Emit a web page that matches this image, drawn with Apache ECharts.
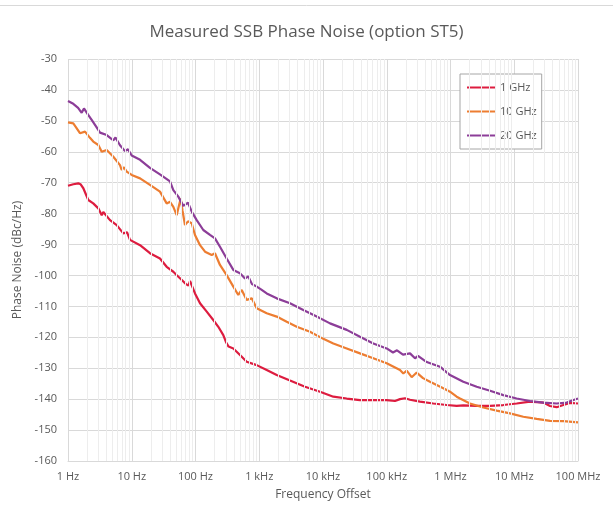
<!DOCTYPE html>
<html>
<head>
<meta charset="utf-8">
<script src="https://cdn.jsdelivr.net/npm/echarts@6/dist/echarts.min.js"></script>
<style>html,body{margin:0;padding:0;background:#fff;}#c{width:613px;height:522px;}</style>
</head>
<body>
<div id="c"></div>
<script>
// ---- data (frequency offset in Hz, phase noise in dBc/Hz) ----
const seriesNames = ['1 GHz', '10 GHz', '20 GHz'];
const xTickLabels = ['1 Hz', '10 Hz', '100 Hz', '1 kHz', '10 kHz', '100 kHz', '1 MHz', '10 MHz', '100 MHz'];

const data1GHz = [
  [1, -71], [1.21, -70.5], [1.45, -70.2], [1.57, -70.5], [1.74, -71.8], [2.08, -75.6], [2.49, -76.7],
  [2.99, -78.3], [3.38, -80.5], [3.58, -79.5], [4.56, -82.1], [5.81, -83.7], [7.37, -86.4], [8.42, -86],
  [9.39, -88.5], [13.5, -90.2], [19.3, -92.8], [27.7, -94.5], [35.3, -97.2], [44.9, -98.8], [51.3, -100],
  [57.1, -100.9], [71, -102.8], [77.6, -103.3], [82, -101.8], [98.2, -105.8], [117.7, -109], [150, -111.7],
  [190, -114.4], [228, -116.6], [273, -119.3], [300, -121.5], [330, -123], [392, -123.6], [499, -125.7], [635, -127.9],
  [912, -129], [1309, -130.6], [1879, -132.2], [3036, -134], [5224, -136], [8980, -137.6], [14520, -139.2],
  [23550, -139.8], [38020, -140.3], [61520, -140.3], [99770, -140.3], [134600, -140.6], [161400, -140],
  [193300, -139.7], [231700, -140.2], [332500, -140.8], [537000, -141.4], [871000, -141.9], [1.25e6, -142.2],
  [1.589e6, -142], [2.577e6, -142.2], [4.17e6, -142.2], [6.73e6, -141.9], [1.09e7, -141.4], [1.766e7, -140.8],
  [2.858e7, -141.1], [3.64e7, -142.2], [4.63e7, -142.6], [5.89e7, -141.9], [7.5e7, -141.2], [1e8, -141.4]
];

const data10GHz = [
  [1, -50.5], [1.21, -50.8], [1.33, -52], [1.54, -54], [1.85, -53.5], [2.21, -55.5], [2.49, -56.7],
  [2.99, -57.8], [3.38, -60], [4.05, -59.4], [5.14, -61.6], [6.54, -64.3], [6.95, -65.9], [7.56, -65],
  [8.33, -66.4], [9.98, -67.5], [13.5, -68.6], [19.3, -70.7], [27.7, -72.9], [35.3, -76.7], [39.8, -76.2],
  [44.9, -77.8], [50.7, -80.5], [54.1, -78], [58.6, -75.1], [62.5, -79], [68.4, -83.7], [76.3, -82.5],
  [87.1, -83.1], [98.2, -86.9], [117.7, -90.2], [141, -92.3], [179.5, -93.4], [202, -92.8], [242, -96.6],
  [308, -99.9], [392, -103.6], [469, -106.3], [531, -104.7], [635, -107.9], [762, -107.4], [912, -110.6],
  [1309, -112.2], [1879, -113.3], [2697, -115], [3872, -116.6], [6250, -118.2], [10110, -120.5],
  [14520, -122], [23550, -123.6], [38020, -125.2], [61520, -126.8], [99770, -128.4], [161400, -130.6],
  [182000, -131.7], [205600, -130.8], [246000, -132.9], [295000, -131.4], [370500, -133.2], [476800, -134.4],
  [771000, -136.5], [982000, -137.6], [1.25e6, -139.2], [1.41e6, -139.8], [2.02e6, -141.4], [3.27e6, -142.7],
  [5.31e6, -143.7], [8.57e6, -144.6], [1.387e7, -145.7], [2.25e7, -146.4], [3.64e7, -147], [5.89e7, -147.1],
  [1e8, -147.5]
];

const data20GHz = [
  [1, -43.6], [1.21, -44.5], [1.44, -45.8], [1.64, -47.4], [1.78, -46], [2.06, -48], [2.35, -49.7],
  [2.75, -51.8], [3.18, -53.8], [4.05, -54.6], [5.14, -56.3], [5.56, -55.4], [6.54, -57.9], [7.83, -59.8],
  [8.73, -59.2], [9.98, -61.2], [13.5, -62.6], [19.3, -65.2], [27.7, -67.3], [39.8, -69.6], [44.9, -72.4],
  [53.7, -74.5], [64.4, -77.5], [76.3, -76.5], [88.1, -79.5], [104.5, -82.1], [132.5, -85.3], [168.7, -86.9],
  [202, -88], [242, -90.7], [308, -94.5], [392, -98.2], [499, -99.3], [597, -101], [673, -100.3],
  [769, -102.8], [912, -103.6], [1065, -104.5], [1309, -105.8], [1879, -107.4], [3036, -109], [4909, -111.2],
  [7960, -113.3], [12880, -115.5], [23550, -117.6], [38020, -119.8], [61520, -122], [99770, -123.6],
  [125300, -124.9], [144800, -124.2], [179700, -125.6], [231700, -125.2], [277500, -126.8], [309000, -126],
  [423700, -128], [684000, -129.5], [982000, -132.2], [1.589e6, -134.4], [2.577e6, -136], [4.17e6, -137.3],
  [6.73e6, -138.7], [1.09e7, -139.8], [1.766e7, -140.6], [2.858e7, -141.1], [4.63e7, -141.4], [6.65e7, -141.1],
  [8.97e7, -140.1], [1e8, -139.8]
];

// minor vertical gridlines at 2..9 x each decade
const minorMultipliers = [2, 3, 4, 5, 6, 7, 8, 9];
const decades = [1, 10, 100, 1e3, 1e4, 1e5, 1e6, 1e7];

const minorLines = [];
decades.forEach(d => minorMultipliers.forEach(m => minorLines.push({ xAxis: d * m })));

const colors = ['#DD1C3F', '#ED7D31', '#8C3D98'];
const FONT = 'Open Sans';
const chart = echarts.init(document.getElementById('c'), null, { renderer: 'canvas' });

chart.setOption({
  animation: false,
  backgroundColor: '#ffffff',
  textStyle: { fontFamily: FONT },
  title: {
    text: 'Measured SSB Phase Noise (option ST5)',
    left: 'center',
    top: 19,
    textStyle: { fontFamily: FONT, fontSize: 17, fontWeight: 'normal', color: '#595959' }
  },
  legend: {
    data: seriesNames,
    icon: 'path://M0,4L28,4L28,6L0,6Z',
    orient: 'vertical',
    left: 460,
    top: 74,
    padding: [8, 5, 8, 7],
    itemGap: 13,
    itemWidth: 28,
    itemHeight: 15,
    itemStyle: { borderWidth: 0 },
    borderColor: '#A6A6A6',
    borderWidth: 1,
    backgroundColor: '#ffffff',
    textStyle: { fontFamily: FONT, fontSize: 11, color: '#595959' }
  },
  graphic: [
    { type: 'line', shape: { x1: 0, y1: 5.5, x2: 613, y2: 5.5 }, style: { stroke: '#D9D9D9', lineWidth: 1 } }
  ],
  grid: { left: 68, right: 35, top: 59, bottom: 61, containLabel: false },
  xAxis: {
    type: 'log',
    logBase: 10,
    min: 1,
    max: 1e8,
    name: 'Frequency Offset',
    nameLocation: 'middle',
    nameGap: 28,
    nameTextStyle: { fontFamily: FONT, fontSize: 12, color: '#595959' },
    axisLine: { show: true, lineStyle: { color: '#D9D9D9' } },
    axisTick: { show: false },
    axisLabel: {
      fontFamily: FONT, fontSize: 11, color: '#595959', margin: 10,
      formatter: v => {
        const i = Math.round(Math.log10(v));
        return xTickLabels[i] !== undefined ? xTickLabels[i] : '';
      }
    },
    splitLine: { show: true, lineStyle: { color: '#D9D9D9', width: 1 } }
  },
  yAxis: {
    type: 'value',
    min: -160,
    max: -30,
    interval: 10,
    name: 'Phase Noise (dBc/Hz)',
    nameLocation: 'middle',
    nameGap: 40,
    nameRotate: 90,
    nameTextStyle: { fontFamily: FONT, fontSize: 12, color: '#595959' },
    axisLine: { show: false },
    axisTick: { show: false },
    axisLabel: { fontFamily: FONT, fontSize: 11, color: '#595959', margin: 11 },
    splitLine: { show: true, lineStyle: { color: '#D9D9D9', width: 1 } }
  },
  series: [
    {
      name: 'minor-grid',
      type: 'line',
      data: [],
      silent: true,
      z: 1,
      markLine: {
        silent: true,
        symbol: 'none',
        label: { show: false },
        lineStyle: { color: '#EDEDED', type: 'solid', width: 1 },
        emphasis: { disabled: true },
        animation: false,
        data: minorLines
      }
    },
    { name: seriesNames[0], type: 'line', data: data1GHz, showSymbol: false, symbol: 'none', z: 3,
      lineStyle: { color: colors[0], width: 2.2 }, itemStyle: { color: colors[0] } },
    { name: seriesNames[1], type: 'line', data: data10GHz, showSymbol: false, symbol: 'none', z: 3,
      lineStyle: { color: colors[1], width: 2.2 }, itemStyle: { color: colors[1] } },
    { name: seriesNames[2], type: 'line', data: data20GHz, showSymbol: false, symbol: 'none', z: 3,
      lineStyle: { color: colors[2], width: 2.2 }, itemStyle: { color: colors[2] } }
  ]
});
</script>
</body>
</html>
